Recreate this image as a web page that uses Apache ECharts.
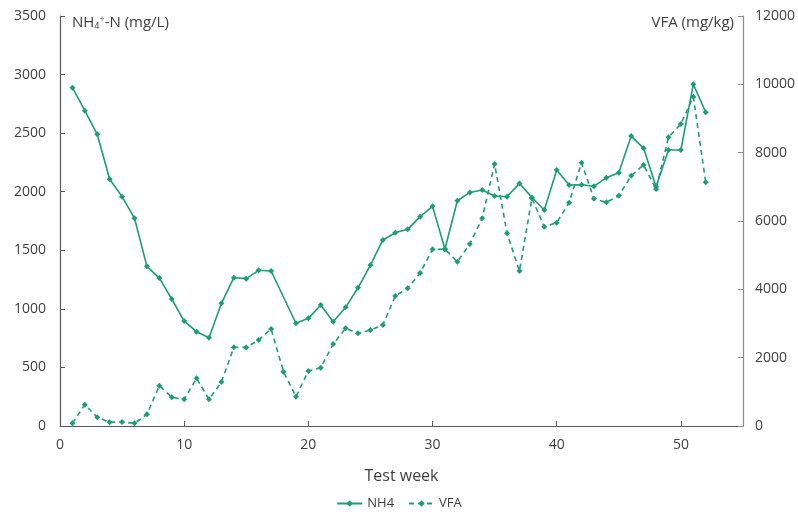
<!DOCTYPE html>
<html>
<head>
<meta charset="utf-8">
<script src="https://cdn.jsdelivr.net/npm/echarts@6/dist/echarts.min.js"></script>
<style>
  html, body { margin: 0; padding: 0; background: #fff; }
  #chart { width: 798px; height: 516px; }
</style>
</head>
<body>
<div id="chart"></div>
<script>
var weeks = [1,2,3,4,5,6,7,8,9,10,11,12,13,14,15,16,17,18,19,20,21,22,23,24,25,26,
             27,28,29,30,31,32,33,34,35,36,37,38,39,40,41,42,43,44,45,46,47,48,49,50,51,52];
// NH4+-N (mg/L), week 18 not measured
var nh4 = [2888,2692,2490,2106,1958,1773,1363,1263,1084,896,805,754,1047,1266,1258,1329,1323,null,
           877,919,1033,890,1013,1180,1374,1588,1650,1679,1787,1875,1511,1923,1994,2014,1963,1957,
           2071,1951,1844,2185,2057,2060,2046,2120,2162,2475,2370,2043,2356,2356,2917,2678];
// VFA (mg/kg)
var vfa = [79,624,255,108,117,79,342,1180,840,781,1396,781,1288,2303,2300,2518,2840,1590,
           858,1610,1707,2400,2859,2713,2810,2956,3805,4030,4479,5172,5172,4810,5327,6078,7669,5640,
           4537,6663,5834,5951,6536,7707,6650,6546,6741,7327,7640,6937,8450,8840,9639,7132];

var green = '#1b9e77';
var txt = '#404040';
var font = 'Open Sans';

function pairs(vals) {
    return weeks.map(function (w, i) { return [w, vals[i]]; });
}
function plain(v) { return String(v); }

var chart = echarts.init(document.getElementById('chart'));
chart.setOption({
    backgroundColor: '#fff',
    animation: false,
    textStyle: { fontFamily: font },
    grid: { left: 60, right: 54, top: 16, bottom: 90 },
    legend: {
        bottom: 1,
        left: 'center',
        itemWidth: 25,
        itemHeight: 8,
        itemGap: 14,
        textStyle: { color: txt, fontSize: 13, fontFamily: font },
        data: ['NH4', 'VFA']
    },
    xAxis: {
        type: 'value',
        min: 0,
        max: 55,
        interval: 10,
        name: 'Test week',
        nameLocation: 'middle',
        nameGap: 42,
        nameTextStyle: { color: txt, fontSize: 16, fontFamily: font },
        axisLine: { lineStyle: { color: '#595959', width: 1.2 } },
        axisTick: { inside: true, length: 5, lineStyle: { color: '#595959' } },
        axisLabel: { color: txt, fontSize: 14, margin: 12, showMaxLabel: false, formatter: plain },
        splitLine: { show: false }
    },
    yAxis: [{
        type: 'value',
        min: 0,
        max: 3500,
        interval: 500,
        name: '{a|NH}{s|4}{p|+}{a|-N (mg/L)}',
        nameLocation: 'end',
        nameGap: -7,
        nameTextStyle: {
            align: 'left',
            verticalAlign: 'middle',
            padding: [0, 0, 0, 12],
            rich: {
                a: { color: txt, fontSize: 15, fontFamily: font },
                s: { color: txt, fontSize: 9, fontFamily: font, verticalAlign: 'bottom', padding: [7, 0, 0, 0] },
                p: { color: txt, fontSize: 9, fontFamily: font, verticalAlign: 'top', padding: [0, 0, 7, 0] }
            }
        },
        axisLine: { show: true, lineStyle: { color: '#595959', width: 1.2 } },
        axisTick: { show: true, inside: true, length: 5, lineStyle: { color: '#595959' } },
        axisLabel: { color: txt, fontSize: 14, margin: 14, formatter: plain },
        splitLine: { show: false }
    }, {
        type: 'value',
        min: 0,
        max: 12000,
        interval: 2000,
        name: 'VFA (mg/kg)',
        nameLocation: 'end',
        nameGap: -7,
        nameTextStyle: { color: txt, fontSize: 15, align: 'right', verticalAlign: 'middle', padding: [0, 9, 0, 0] },
        axisLine: { show: true, lineStyle: { color: '#8c8c8c', width: 1.2 } },
        axisTick: { show: true, inside: true, length: 5, lineStyle: { color: '#8c8c8c' } },
        axisLabel: { color: txt, fontSize: 14, margin: 12, formatter: plain },
        splitLine: { show: false }
    }],
    series: [{
        name: 'NH4',
        type: 'line',
        yAxisIndex: 0,
        data: pairs(nh4),
        connectNulls: true,
        symbol: 'diamond',
        symbolSize: 6,
        itemStyle: { color: green },
        lineStyle: { color: green, width: 1.6 }
    }, {
        name: 'VFA',
        type: 'line',
        yAxisIndex: 1,
        data: pairs(vfa),
        symbol: 'diamond',
        symbolSize: 6,
        itemStyle: { color: green },
        lineStyle: { color: green, width: 1.6, type: [5, 4] }
    }]
});
</script>
</body>
</html>
